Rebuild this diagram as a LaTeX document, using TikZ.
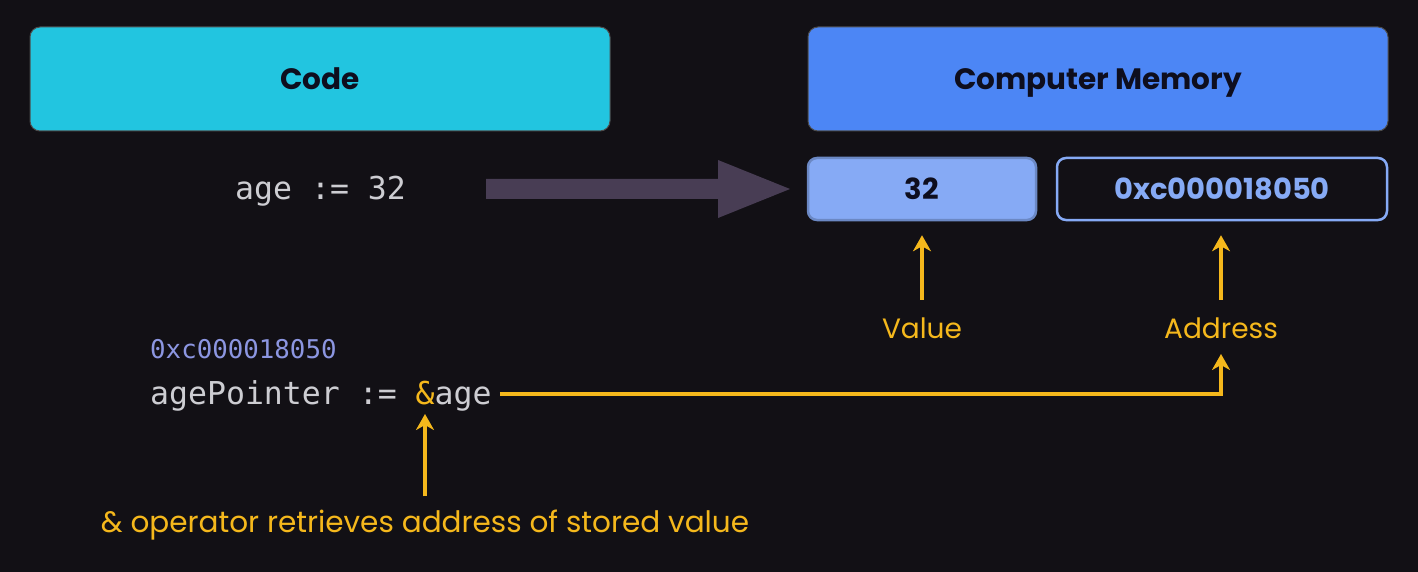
\documentclass[tikz,border=0pt]{standalone}
\usepackage{fontspec}
\setmainfont{Poppins}
\setmonofont{DejaVu Sans Mono}
\usetikzlibrary{arrows.meta}
\definecolor{bg}{RGB}{18,16,21}
\definecolor{cyanbox}{RGB}{34,197,224}
\definecolor{membox}{RGB}{76,134,245}
\definecolor{lightblue}{RGB}{134,170,245}
\definecolor{darktext}{RGB}{14,14,30}
\definecolor{codegray}{RGB}{205,205,210}
\definecolor{hexblue}{RGB}{140,150,225}
\definecolor{ylw}{RGB}{245,184,28}
\definecolor{bigarrow}{RGB}{72,61,84}
\tikzset{
  header/.style={draw=black!70, line width=1pt, rounded corners=10pt, minimum width=580pt, minimum height=104pt, text=darktext, font=\fontsize{29.5}{34}\selectfont\bfseries, text height=21pt, text depth=0pt},
  cell/.style={rounded corners=9pt, minimum height=62pt, line width=2.5pt, font=\fontsize{29}{34}\selectfont\bfseries, text height=21pt, text depth=0pt},
  code/.style={font=\ttfamily\fontsize{31.5}{36}\selectfont, text=codegray, inner sep=0pt},
  ylabel/.style={text=ylw, font=\fontsize{28}{33}\selectfont},
  yarrow/.style={draw=ylw, line width=3.5pt, -{Stealth[length=16pt,width=18pt,inset=5pt]}}
}
\begin{document}
\begin{tikzpicture}[x=1pt,y=-1pt]
\fill[bg] (0,0) rectangle (1418,572);
\useasboundingbox (0,0) rectangle (1418,572);
% headers
\node[header, fill=cyanbox] (code) at (320,79) {Code};
\node[header, fill=membox] (mem) at (1098,79) {Computer Memory};
% memory cells
\node[cell, fill=lightblue, draw=lightblue!80!black, minimum width=228pt, text=darktext] (val) at (922,189) {32};
\node[cell, fill=bg, draw=lightblue, minimum width=330pt, text=lightblue] (addr) at (1222,189) {0xc000018050};
% code lines
\node[code, anchor=west] (age) at (235,191) {age := 32};
\node[code, anchor=west, text=hexblue, font=\ttfamily\fontsize{25.8}{30}\selectfont] (hex) at (150,349) {0xc000018050};
\node[code, anchor=west] (ptr) at (150,396) {agePointer := {\color{ylw}\&}age};
% big arrow
\coordinate (bs) at (486,189);
\coordinate (bt) at (790,189);
\fill[bigarrow] ([yshift=10pt]bs) -- ([xshift=-72pt,yshift=10pt]bt) -- ([xshift=-72pt,yshift=29pt]bt) -- (bt)
  -- ([xshift=-72pt,yshift=-29pt]bt) -- ([xshift=-72pt,yshift=-10pt]bt) -- ([yshift=-10pt]bs) -- cycle;
% labels
\node[ylabel] (vlab) at (922,328) {Value};
\node[ylabel] (alab) at (1221,328) {Address};
\node[ylabel, font=\fontsize{29.5}{34}\selectfont] (olab) at (425,525) {\& operator retrieves address of stored value};
% yellow arrows
\draw[yarrow, shorten >=14pt, shorten <=14pt] (vlab.north) -- (val.south);
\draw[yarrow, shorten >=14pt, shorten <=14pt] (alab.north) -- (addr.south -| alab.north);
\coordinate (amp) at (425,414);
\coordinate (atip) at (1221,354);
\draw[yarrow, shorten <=10pt] (olab.north -| amp) -- (amp);
\draw[yarrow] ([xshift=8pt,yshift=2pt]ptr.east) -| (atip);
\end{tikzpicture}
\end{document}
